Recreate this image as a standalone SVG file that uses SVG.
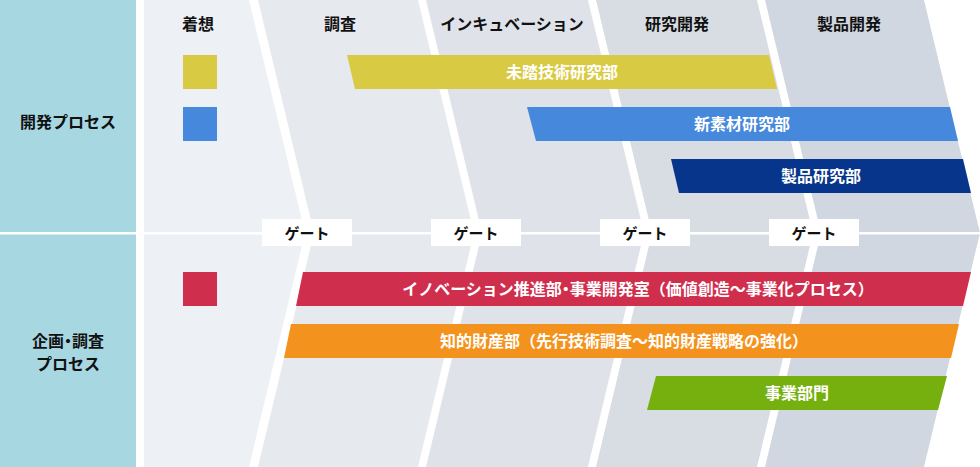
<svg xmlns="http://www.w3.org/2000/svg" width="980" height="467" viewBox="0 0 980 467">
<style>
text{font-family:"Noto Sans CJK JP","Noto Sans CJK SC",sans-serif;font-weight:bold;}
.hd{font-size:16px;fill:#111;text-anchor:middle;}
.bl{font-size:16px;fill:#fff;text-anchor:middle;}
.gt{font-size:15px;fill:#111;text-anchor:middle;}
.half{font-feature-settings:"halt";}
.side{fill:#a7d7e1;}
.gate{fill:#fff;}
</style>
<rect x="0" y="0" width="980" height="467" fill="#fff"/>
<g id="row-labels">
  <g id="dev-process">
    <rect class="side" x="0" y="0" width="136" height="232"/>
    <text class="hd" x="68" y="128">開発プロセス</text>
  </g>
  <g id="plan-process">
    <rect class="side" x="0" y="234.5" width="136" height="232.5"/>
    <text class="hd"><tspan x="68" y="346.5">企画<tspan class="half">・</tspan>調査</tspan><tspan x="68" y="370">プロセス</tspan></text>
  </g>
</g>
<g id="phases">
  <g id="phase-1">
    <polygon points="144,0 249,0 305,233 249,467 144,467" fill="#edf0f4"/>
    <text class="hd" x="198" y="30">着想</text>
  </g>
  <g id="phase-2">
    <polygon points="258,0 418,0 474,233 418,467 258,467 314,233" fill="#e6e9ee"/>
    <text class="hd" x="340" y="30">調査</text>
  </g>
  <g id="phase-3">
    <polygon points="426,0 588,0 644,233 588,467 426,467 482,233" fill="#dfe3e9"/>
    <text class="hd" x="512" y="30">インキュベーション</text>
  </g>
  <g id="phase-4">
    <polygon points="596,0 757,0 813,233 757,467 596,467 652,233" fill="#d8dde4"/>
    <text class="hd" x="677" y="30">研究開発</text>
  </g>
  <g id="phase-5">
    <polygon points="765,0 924,0 980,233 924,467 765,467 821,233" fill="#d1d7e0"/>
    <text class="hd" x="849" y="30">製品開発</text>
  </g>
</g>
<rect x="136" y="232" width="844" height="2.5" fill="#fff"/>
<g id="connectors"></g>
<g id="gates">
  <g id="gate-1"><rect class="gate" x="262" y="219" width="90" height="27"/><text class="gt" x="307" y="239">ゲート</text></g>
  <g id="gate-2"><rect class="gate" x="431" y="219" width="90" height="27"/><text class="gt" x="476" y="239">ゲート</text></g>
  <g id="gate-3"><rect class="gate" x="600" y="219" width="90" height="27"/><text class="gt" x="645" y="239">ゲート</text></g>
  <g id="gate-4"><rect class="gate" x="769" y="219" width="90" height="27"/><text class="gt" x="814" y="239">ゲート</text></g>
</g>
<g id="legend">
  <rect id="sq-yellow" x="183" y="55" width="34" height="34" fill="#d9ca43"/>
  <rect id="sq-blue" x="183" y="107" width="34" height="34" fill="#4688dc"/>
  <rect id="sq-red" x="183" y="272" width="34" height="34" fill="#d02e4d"/>
</g>
<g id="bars">
  <g id="bar-mito">
    <polygon points="347,55 769,55 777,89 355,89" fill="#d9ca43"/>
    <text class="bl" x="562" y="78">未踏技術研究部</text>
  </g>
  <g id="bar-shinsozai">
    <polygon points="527,107 950,107 958,141 536,141" fill="#4688dc"/>
    <text class="bl" x="742" y="130">新素材研究部</text>
  </g>
  <g id="bar-seihin">
    <polygon points="671,159 963,159 971,193 679,193" fill="#07358b"/>
    <text class="bl" x="821" y="182">製品研究部</text>
  </g>
  <g id="bar-innovation">
    <polygon points="303,272 971,272 963,306 296,306" fill="#d02e4d"/>
    <text class="bl" x="638" y="295">イノベーション推進部<tspan class="half">・</tspan>事業開発室（価値創造～事業化プロセス）</text>
  </g>
  <g id="bar-chizai">
    <polygon points="291,324 959,324 951,358 284,358" fill="#f4921e"/>
    <text class="bl" x="624" y="347">知的財産部（先行技術調査～知的財産戦略の強化）</text>
  </g>
  <g id="bar-jigyo">
    <polygon points="656,376 947,376 938,410 647,410" fill="#76b00e"/>
    <text class="bl" x="797" y="399">事業部門</text>
  </g>
</g>
</svg>
